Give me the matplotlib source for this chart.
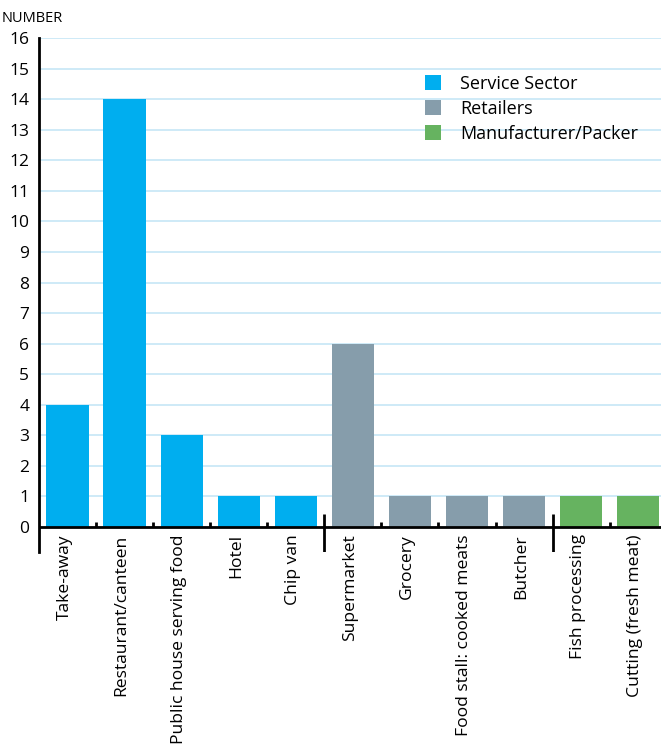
import matplotlib
matplotlib.use("Agg")
import matplotlib.pyplot as plt
from matplotlib.patches import Patch

plt.rcParams['font.family'] = ['Open Sans', 'DejaVu Sans']

categories = ["Take-away", "Restaurant/canteen", "Public house serving food", "Hotel",
              "Chip van", "Supermarket", "Grocery", "Food stall: cooked meats",
              "Butcher", "Fish processing", "Cutting (fresh meat)"]
values = [4, 14, 3, 1, 1, 6, 1, 1, 1, 1, 1]
groups = ["Service Sector"] * 5 + ["Retailers"] * 4 + ["Manufacturer/Packer"] * 2
group_names = ["Service Sector", "Retailers", "Manufacturer/Packer"]
group_colors = {"Service Sector": "#00AEEF", "Retailers": "#869DAB",
                "Manufacturer/Packer": "#66B360"}
y_ticks = list(range(0, 17))

fig = plt.figure(figsize=(6.61, 7.44), dpi=100)
ax = fig.add_axes([0.059, 0.258, 0.941, 0.6909])

x = list(range(len(categories)))
ax.bar(x, values, width=0.74, color=[group_colors[g] for g in groups], zorder=3)

ax.set_xlim(-0.5, len(categories) - 0.6)
ax.set_ylim(-0.82, 16)
ax.set_yticks(y_ticks)
ax.set_yticklabels([str(t) for t in y_ticks], fontsize=12.5)
ax.tick_params(axis='y', length=0, pad=7)
ax.set_xticks([])
ax.grid(axis='y', color='#C6E6F6', linewidth=1.2, zorder=0)

for s in ['top', 'right', 'bottom']:
    ax.spines[s].set_visible(False)
ax.spines['left'].set_linewidth(2)
ax.spines['left'].set_color('black')

# baseline at zero
ax.axhline(0, color='black', linewidth=2, zorder=4)

# boundary ticks between bars; long ones separate groups
for i in range(len(categories) - 1):
    b = i + 0.5
    if groups[i] != groups[i + 1]:
        ax.plot([b, b], [-0.82, 0.43], color='black', linewidth=2, zorder=4,
                solid_capstyle='butt')
    else:
        ax.plot([b, b], [0, 0.15], color='black', linewidth=2, zorder=4,
                solid_capstyle='butt')

# category labels, rotated under each bar
for xi, name in zip(x, categories):
    ax.text(xi - 0.05, -0.24, name, rotation=90, ha='center', va='top',
            fontsize=12.6, transform=ax.transData)

fig.text(0.003, 0.975, "NUMBER", fontsize=10.5, ha='left', va='center')

handles = [Patch(facecolor=group_colors[g], edgecolor='none') for g in group_names]
ax.legend(handles, group_names, loc='upper left', bbox_to_anchor=(0.594, 0.96),
          frameon=False, fontsize=13, handlelength=0.9, handleheight=0.9,
          handletextpad=1.05, labelspacing=0.38)

fig.savefig("out.png", dpi=100)
